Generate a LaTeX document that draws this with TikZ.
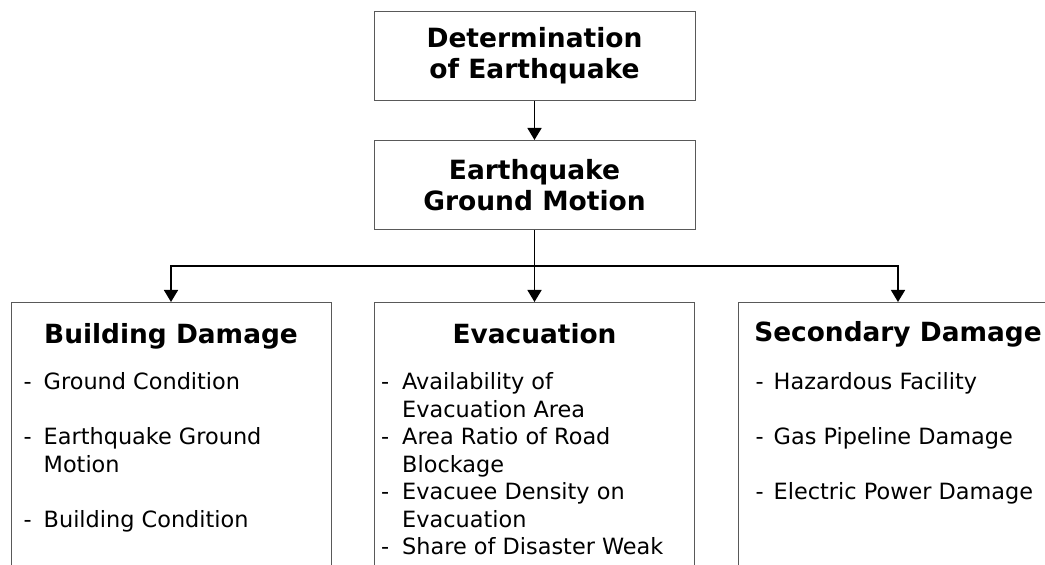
\documentclass[tikz,border=0pt]{standalone}
\usepackage{fontspec}
\setmainfont{DejaVu Sans}
\usetikzlibrary{positioning,arrows.meta}

\begin{document}
\begin{tikzpicture}[x=1pt,y=1pt,
                    >={Triangle[width=14pt,length=12pt]},
                    title node/.style={draw=black!65,line width=1pt,
                      minimum width=321pt,minimum height=89pt,inner sep=0pt,
                      align=center,font=\bfseries\fontsize{26.5}{31}\selectfont},
                    group node/.style={draw=black!65,line width=1pt,anchor=north,
                      minimum width=320pt,minimum height=330pt},
                    head node/.style={anchor=base,inner sep=0pt,
                      font=\bfseries\fontsize{26.4}{31}\selectfont},
                    list node/.style={anchor=base west,inner sep=0pt,
                      font=\fontsize{22.4}{27.5}\selectfont},
                    link/.style={->,line width=1.6pt}]

  \useasboundingbox (0,0) rectangle (1045,565);

  \node[title node] (det) at (534.5,509) {Determination\\of Earthquake};
  \node[title node] (mot) [below=39pt of det] {Earthquake\\Ground Motion};

  % the three result groups
  \node[group node] (bd) at (171,263) {};
  \node[group node] (ev) at (534.5,263) {};
  \node[group node] (sd) at (898,263) {};

  \node[head node] (bdh) at ([yshift=-42pt]bd.north) {Building Damage};
  \node[head node] (evh) at ([yshift=-42pt]ev.north) {Evacuation};
  \node[head node] (sdh) at ([yshift=-40pt]sd.north) {Secondary Damage};

  \node[list node] (bdl) at ([xshift=13pt,yshift=-88pt]bd.north west)
    {\begin{tabular}[t]{@{}p{20pt}@{}l@{}}
      - & Ground Condition\\[27.5pt]
      - & Earthquake Ground\\
        & Motion\\[27.5pt]
      - & Building Condition
    \end{tabular}};
  \node[list node] (evl) at ([xshift=7pt,yshift=-88pt]ev.north west)
    {\begin{tabular}[t]{@{}p{21pt}@{}l@{}}
      - & Availability of\\
        & Evacuation Area\\
      - & Area Ratio of Road\\
        & Blockage\\
      - & Evacuee Density on\\
        & Evacuation\\
      - & Share of Disaster Weak
    \end{tabular}};
  \node[list node] (sdl) at ([xshift=18pt,yshift=-88pt]sd.north west)
    {\begin{tabular}[t]{@{}p{18pt}@{}l@{}}
      - & Hazardous Facility\\[27.5pt]
      - & Gas Pipeline Damage\\[27.5pt]
      - & Electric Power Damage
    \end{tabular}};

  \coordinate (split) at ([yshift=-36pt]mot.south);

  \draw[link] (det) -- (mot);
  \draw[link] (mot) -- (ev);
  \draw[link] (split) -| (bd);
  \draw[link] (split) -| (sd);
\end{tikzpicture}
\end{document}
